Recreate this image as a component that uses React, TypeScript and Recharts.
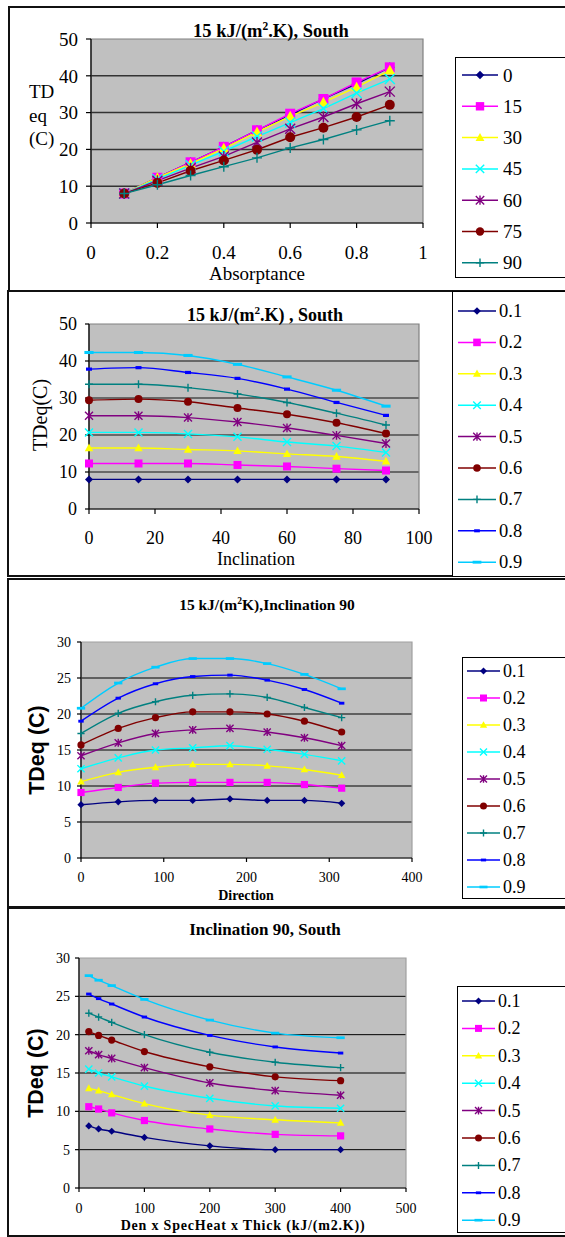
import React from 'react';
import { LineChart, Line, XAxis, YAxis, CartesianGrid, ReferenceArea } from 'recharts';

const SERIF = '"Liberation Serif", "Times New Roman", serif';
const SANS = '"Liberation Sans", Arial, sans-serif';

// ---- data ----
const absorptance = [0.1, 0.2, 0.3, 0.4, 0.5, 0.6, 0.7, 0.8, 0.9];
const absLabels = ['0.1', '0.2', '0.3', '0.4', '0.5', '0.6', '0.7', '0.8', '0.9'];

// TDeq vs inclination (South, 15 kJ/(m2.K)), one array per absorptance
const inclination = [0, 15, 30, 45, 60, 75, 90];
const incA01 = [8.0, 8.0, 8.0, 8.0, 8.0, 8.0, 8.0];
const incA02 = [12.3, 12.3, 12.3, 11.9, 11.5, 10.9, 10.4];
const incA03 = [16.5, 16.5, 16.1, 15.7, 14.9, 14.2, 12.9];
const incA04 = [20.7, 20.7, 20.3, 19.5, 18.1, 17.0, 15.3];
const incA05 = [25.2, 25.2, 24.7, 23.5, 21.9, 19.9, 17.7];
const incA06 = [29.4, 29.7, 29.0, 27.3, 25.6, 23.3, 20.4];
const incA07 = [33.7, 33.7, 32.8, 31.1, 28.8, 25.9, 22.7];
const incA08 = [37.8, 38.2, 36.9, 35.3, 32.4, 28.8, 25.3];
const incA09 = [42.3, 42.3, 41.5, 39.1, 35.7, 32.1, 27.8];
const incRows = [incA01, incA02, incA03, incA04, incA05, incA06, incA07, incA08, incA09];

// TDeq vs direction (inclination 90)
const direction = [0, 45, 90, 135, 180, 225, 270, 315];
const dirA01 = [7.4, 7.8, 8.0, 8.0, 8.2, 8.0, 8.0, 7.6];
const dirA02 = [9.1, 9.8, 10.4, 10.5, 10.5, 10.5, 10.2, 9.7];
const dirA03 = [10.6, 11.9, 12.6, 13.0, 13.0, 12.8, 12.3, 11.5];
const dirA04 = [12.4, 13.9, 15.0, 15.3, 15.6, 15.1, 14.4, 13.5];
const dirA05 = [14.2, 16.0, 17.3, 17.8, 18.0, 17.5, 16.7, 15.6];
const dirA06 = [15.7, 18.0, 19.5, 20.3, 20.3, 20.0, 19.0, 17.5];
const dirA07 = [17.3, 20.1, 21.7, 22.6, 22.8, 22.3, 20.9, 19.5];
const dirA08 = [19.0, 22.2, 24.2, 25.2, 25.4, 24.7, 23.4, 21.5];
const dirA09 = [20.8, 24.3, 26.5, 27.7, 27.7, 27.0, 25.5, 23.5];
const dirRows = [dirA01, dirA02, dirA03, dirA04, dirA05, dirA06, dirA07, dirA08, dirA09];

// TDeq vs heat capacity (inclination 90, South)
const heatCap = [15, 30, 50, 100, 200, 300, 400];
const capA01 = [8.1, 7.7, 7.4, 6.6, 5.5, 5.0, 5.0];
const capA02 = [10.6, 10.3, 9.8, 8.8, 7.7, 7.0, 6.8];
const capA03 = [13.0, 12.7, 12.2, 11.0, 9.5, 8.9, 8.5];
const capA04 = [15.5, 15.0, 14.5, 13.3, 11.7, 10.7, 10.4];
const capA05 = [17.9, 17.4, 16.9, 15.7, 13.7, 12.7, 12.1];
const capA06 = [20.4, 19.9, 19.3, 17.8, 15.8, 14.5, 14.0];
const capA07 = [22.8, 22.3, 21.6, 20.0, 17.7, 16.4, 15.7];
const capA08 = [25.3, 24.7, 24.0, 22.3, 19.9, 18.4, 17.6];
const capA09 = [27.7, 27.1, 26.4, 24.6, 21.9, 20.2, 19.6];
const capRows = [capA01, capA02, capA03, capA04, capA05, capA06, capA07, capA08, capA09];

const colors = ['#000080', '#FF00FF', '#FFFF00', '#00FFFF', '#800080', '#800000', '#008080', '#0000FF', '#00CCFF'];
const shapes = ['diamond', 'square', 'triangle', 'x', 'star', 'circle', 'plus', 'dash', 'longdash'];

// build tables
const absTable = absorptance.map((a, i) => {
  const row: any = { x: a };
  inclination.forEach((inc, j) => { row['i' + inc] = incRows[i][j]; });
  return row;
});
const toTable = (xs: number[], rows: number[][]) =>
  xs.map((x, j) => {
    const row: any = { x };
    rows.forEach((r, i) => { row['a' + i] = r[j]; });
    return row;
  });
const incTable = toTable(inclination, incRows);
const dirTable = toTable(direction, dirRows);
const capTable = toTable(heatCap, capRows);

const incSeries = inclination.map((inc, i) => ({ key: 'i' + inc, name: String(inc), color: colors[i], shape: shapes[i] }));
const absSeries = absLabels.map((n, i) => ({ key: 'a' + i, name: n, color: colors[i], shape: shapes[i] }));

const Marker = ({ shape, cx, cy, color, s }: any) => {
  if (cx == null || cy == null) return null;
  const sw = 1.4;
  switch (shape) {
    case 'diamond':
      return <polygon points={`${cx},${cy - s} ${cx + s},${cy} ${cx},${cy + s} ${cx - s},${cy}`} fill={color} />;
    case 'square':
      return <rect x={cx - s} y={cy - s} width={2 * s} height={2 * s} fill={color} />;
    case 'triangle':
      return <polygon points={`${cx},${cy - s * 1.1} ${cx + s * 1.05},${cy + s * 0.8} ${cx - s * 1.05},${cy + s * 0.8}`} fill={color} />;
    case 'x':
      return <path d={`M${cx - s},${cy - s}L${cx + s},${cy + s}M${cx + s},${cy - s}L${cx - s},${cy + s}`} stroke={color} strokeWidth={sw} />;
    case 'star':
      return <path d={`M${cx - s},${cy - s}L${cx + s},${cy + s}M${cx + s},${cy - s}L${cx - s},${cy + s}M${cx},${cy - s * 1.1}L${cx},${cy + s * 1.1}`} stroke={color} strokeWidth={sw} />;
    case 'circle':
      return <circle cx={cx} cy={cy} r={s} fill={color} />;
    case 'plus':
      return <path d={`M${cx - s},${cy}L${cx + s},${cy}M${cx},${cy - s}L${cx},${cy + s}`} stroke={color} strokeWidth={sw} />;
    case 'dash':
      return <rect x={cx - s * 0.75} y={cy - s * 0.4} width={s * 1.5} height={s * 0.8} fill={color} />;
    case 'longdash':
      return <rect x={cx - s * 1.15} y={cy - s * 0.38} width={s * 2.3} height={s * 0.76} fill={color} />;
    default:
      return null;
  }
};

const Panel = ({ top, height, margin, yWidth, xHeight, data, series, xDomain, xTicks, yDomain, yTicks, grid, tickFont, ySize, xSize, yGap, xGap, ms, curve, frame, gridColor, gridWidth }: any) => (
  <div style={{ position: 'absolute', left: 0, top }}>
    <LineChart width={565} height={height} data={data} margin={margin}>
      <CartesianGrid vertical={false} fill="#C0C0C0" fillOpacity={1} stroke={gridColor} strokeWidth={gridWidth} horizontalValues={grid} />
      <ReferenceArea x1={xDomain[0]} x2={xDomain[1]} y1={yDomain[0]} y2={yDomain[1]} fill="none" stroke={frame} strokeWidth={1.2} />
      <XAxis
        type="number"
        dataKey="x"
        domain={xDomain}
        ticks={xTicks}
        interval={0}
        height={xHeight}
        axisLine={{ stroke: '#000', strokeWidth: 1.2 }}
        tickLine={{ stroke: '#000', strokeWidth: 1.2 }}
        tickSize={xSize}
        tickMargin={xGap}
        tick={{ fill: '#000', fontSize: tickFont, fontFamily: SERIF }}
      />
      <YAxis
        type="number"
        domain={yDomain}
        ticks={yTicks}
        interval={0}
        width={yWidth}
        axisLine={{ stroke: '#000', strokeWidth: 1.2 }}
        tickLine={{ stroke: '#000', strokeWidth: 1.2 }}
        tickSize={ySize}
        tickMargin={yGap}
        tick={{ fill: '#000', fontSize: tickFont, fontFamily: SERIF }}
      />
      {series.map((s: any) => (
        <Line
          key={s.key}
          type={curve}
          dataKey={s.key}
          name={s.name}
          stroke={s.color}
          strokeWidth={1.4}
          dot={(p: any) => <Marker key={s.key + '-' + p.index} shape={s.shape} cx={p.cx} cy={p.cy} color={s.color} s={ms} />}
          activeDot={false}
          isAnimationActive={false}
        />
      ))}
    </LineChart>
  </div>
);

const LegendBox = ({ left, top, height, first, step, x1, x2, tx, fontSize, items, ms }: any) => (
  <div style={{ position: 'absolute', left, top, width: 200, height, border: '1.5px solid #000', boxSizing: 'border-box', background: '#fff' }}>
    <svg width={200} height={height} style={{ position: 'absolute', left: -1.5, top: -1.5 }}>
      {items.map((it: any, i: number) => {
        const y = first + i * step;
        return (
          <g key={it.key}>
            <line x1={x1} x2={x2} y1={y} y2={y} stroke={it.color} strokeWidth={1.5} />
            <Marker shape={it.shape} cx={(x1 + x2) / 2} cy={y} color={it.color} s={ms} />
            <text x={tx} y={y} dominantBaseline="central" fontFamily={SERIF} fontSize={fontSize} fill="#000">{it.name}</text>
          </g>
        );
      })}
    </svg>
  </div>
);

const Frame = ({ left, top, height }: any) => (
  <div style={{ position: 'absolute', left, top, width: 620, height, border: '2px solid #111', boxSizing: 'border-box' }} />
);

const Text = ({ cx, cy, size, bold, font, rotate, spacing, children }: any) => (
  <div
    style={{
      position: 'absolute', left: cx, top: cy, whiteSpace: 'nowrap', lineHeight: 1,
      fontFamily: font || SERIF, fontSize: size, fontWeight: bold ? 'bold' : 'normal', color: '#000',
      letterSpacing: spacing || 0,
      transform: `translate(-50%, -50%)${rotate ? ' rotate(-90deg)' : ''}`,
    }}
  >
    {children}
  </div>
);

const Sup = ({ children }: any) => (
  <span style={{ fontSize: '0.62em', position: 'relative', top: '-0.6em' }}>{children}</span>
);

export default function App() {
  return (
    <div style={{ position: 'absolute', left: 0, top: 0, width: 565, height: 1237, overflow: 'hidden', background: '#fff' }}>
      <Frame left={8} top={6} height={286} />
      <Frame left={7} top={290} height={287} />
      <Frame left={7} top={578} height={330} />
      <Frame left={7} top={907} height={330} />

      {/* panel 1: TDeq vs absorptance */}
      <Panel
        top={0} height={292} margin={{ top: 39, right: 142, left: 41, bottom: 29 }} yWidth={50} xHeight={40}
        data={absTable} series={incSeries} xDomain={[0, 1]} xTicks={[0, 0.2, 0.4, 0.6, 0.8, 1]}
        yDomain={[0, 50]} yTicks={[0, 10, 20, 30, 40, 50]} grid={[10, 20, 30, 40]} tickFont={19}
        ySize={5} yGap={8} xSize={5} xGap={18} ms={5} curve="linear" frame="#808080" gridColor="#333" gridWidth={1.5}
      />
      <Text cx={271} cy={31} size={18.5} bold>15 kJ/(m<Sup>2</Sup>.K), South</Text>
      <Text cx={257} cy={273} size={19}>Absorptance</Text>
      <div style={{ position: 'absolute', left: 29, top: 80, fontFamily: SERIF, fontSize: 19, lineHeight: '23.5px' }}>
        TD<br />eq<br />(C)
      </div>
      <LegendBox left={455} top={57} height={221} first={18} step={31.3} x1={7} x2={43} tx={48} fontSize={19} items={incSeries} ms={4.2} />

      {/* panel 2: TDeq vs inclination */}
      <Panel
        top={292} height={285} margin={{ top: 32, right: 146, left: 39, bottom: 28 }} yWidth={50} xHeight={40}
        data={incTable} series={absSeries} xDomain={[0, 100]} xTicks={[0, 20, 40, 60, 80, 100]}
        yDomain={[0, 50]} yTicks={[0, 10, 20, 30, 40, 50]} grid={[10, 20, 30, 40]} tickFont={18}
        ySize={4} yGap={8} xSize={5} xGap={17} ms={4} curve="monotone" frame="#808080" gridColor="#111" gridWidth={1.2}
      />
      <Text cx={265} cy={315} size={18} bold>15 kJ/(m<Sup>2</Sup>.K) , South</Text>
      <Text cx={256} cy={559} size={18}>Inclination</Text>
      <Text cx={40} cy={415} size={20} rotate>TDeq(C)</Text>
      <LegendBox left={452} top={291} height={286} first={20} step={31.4} x1={6} x2={44} tx={47} fontSize={18.5} items={absSeries} ms={3.8} />

      {/* panel 3: TDeq vs direction */}
      <Panel
        top={579} height={328} margin={{ top: 63, right: 153, left: 41, bottom: 19 }} yWidth={40} xHeight={30}
        data={dirTable} series={absSeries} xDomain={[0, 400]} xTicks={[0, 100, 200, 300, 400]}
        yDomain={[0, 30]} yTicks={[0, 5, 10, 15, 20, 25, 30]} grid={[5, 10, 15, 20, 25]} tickFont={14}
        ySize={4} yGap={6} xSize={4} xGap={10} ms={3.6} curve="monotone" frame="#A0A0A0" gridColor="#000" gridWidth={1}
      />
      <Text cx={267} cy={605} size={15.5} bold>15 kJ/(m<Sup>2</Sup>K),Inclination 90</Text>
      <Text cx={246} cy={896} size={14} bold>Direction</Text>
      <Text cx={38} cy={750} size={21.5} bold font={SANS} rotate>TDeq (C)</Text>
      <LegendBox left={462} top={657} height={242} first={14} step={27} x1={5} x2={38} tx={41} fontSize={18} items={absSeries} ms={3.5} />

      {/* panel 4: TDeq vs heat capacity */}
      <Panel
        top={909} height={327} margin={{ top: 49, right: 159, left: 39, bottom: 18 }} yWidth={40} xHeight={30}
        data={capTable} series={absSeries} xDomain={[0, 500]} xTicks={[0, 100, 200, 300, 400, 500]}
        yDomain={[0, 30]} yTicks={[0, 5, 10, 15, 20, 25, 30]} grid={[5, 10, 15, 20, 25]} tickFont={14}
        ySize={4} yGap={5} xSize={4} xGap={11} ms={3.6} curve="monotone" frame="#A0A0A0" gridColor="#000" gridWidth={1}
      />
      <Text cx={265} cy={929} size={17} bold>Inclination 90, South</Text>
      <Text cx={243} cy={1226} size={14} bold spacing={0.8}>Den x SpecHeat x Thick (kJ/(m2.K))</Text>
      <Text cx={37} cy={1073} size={21.5} bold font={SANS} rotate>TDeq (C)</Text>
      <LegendBox left={457} top={986} height={247} first={15} step={27.4} x1={5} x2={38} tx={41} fontSize={18} items={absSeries} ms={3.5} />
    </div>
  );
}
